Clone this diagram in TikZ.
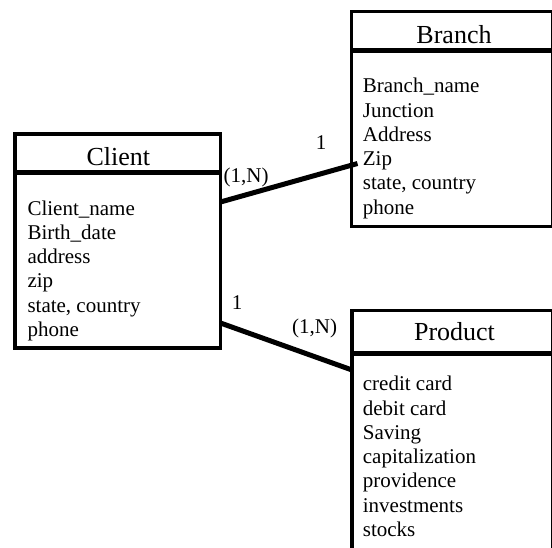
\documentclass[tikz,border=0pt]{standalone}
\usepackage{fontspec}
\setmainfont{Liberation Serif}
\begin{document}
\begin{tikzpicture}[x=1pt,y=-1pt,
  entity/.style={draw,line width=3.3pt,rectangle,inner sep=0pt,outer sep=0pt},
  divider/.style={line width=5pt},
  title/.style={anchor=base,inner sep=0pt,font=\fontsize{26}{30}\selectfont},
  attr/.style={anchor=base west,inner sep=0pt,font=\fontsize{21}{24}\selectfont},
  card/.style={anchor=base,inner sep=0pt,font=\fontsize{21}{24}\selectfont},
  link/.style={line width=5pt}]
\useasboundingbox[fill=white] (0,0) rectangle (552,547);

% entity boxes
\node[entity,minimum width=205.5pt,minimum height=214pt] (client) at (117.75,241) {};
\node[entity,minimum width=201pt,minimum height=215pt] (branch) at (452,119) {};
\node[entity,minimum width=200.5pt,minimum height=270pt] (product) at (452.25,445.5) {};

% header dividers
\draw[divider] ([yshift=-38.3pt]client.north west) -- ([yshift=-38.3pt]client.north east);
\draw[divider] ([yshift=-38.5pt]branch.north west) -- ([yshift=-38.5pt]branch.north east);
\draw[divider] ([yshift=-43.3pt]product.north west) -- ([yshift=-43.3pt]product.north east);

% titles
\node[title] (clientT) at (118.3,165) {Client};
\node[title] (branchT) at (454,43.3) {Branch};
\node[title] (productT) at (454.5,340.7) {Product};

% attributes
\foreach \t [count=\i] in {Client\_name, Birth\_date, address, zip, {state, country}, phone}
  \node[attr] (cl\i) at (27.3,{215+24.3*(\i-1)}) {\t};
\foreach \t [count=\i] in {Branch\_name, Junction, Address, Zip, {state, country}, phone}
  \node[attr] (br\i) at (362.7,{92.7+24.3*(\i-1)}) {\t};
\foreach \t [count=\i] in {credit card, debit card, Saving, capitalization, providence, investments, stocks}
  \node[attr] (pr\i) at (362.7,{390.7+24.3*(\i-1)}) {\t};

% relationships
\draw[link] ([yshift=39pt]client.east) -- ([xshift=-5.2pt,yshift=2.1pt]br4.base west);
\draw[link] ([yshift=-82pt]client.east) -- ([yshift=75.5pt]product.west);

% cardinalities
\node[card] (cb1) at (321,149.3) {1};
\node[attr] (cbN) at (223.5,182.7) {(1,N)};
\node[card] (cp1) at (237,309.3) {1};
\node[attr] (cpN) at (292,333.3) {(1,N)};
\end{tikzpicture}
\end{document}
